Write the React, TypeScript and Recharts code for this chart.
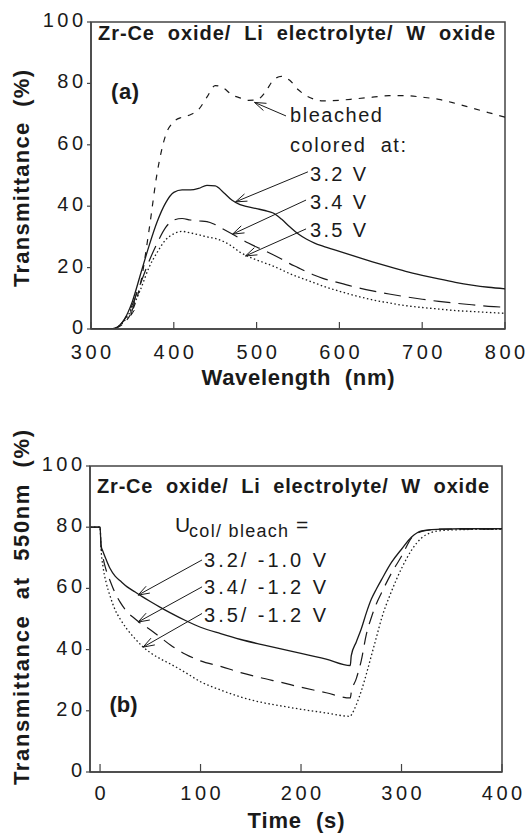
import React from "react";
import {
  LineChart,
  Line,
  XAxis,
  YAxis,
  ReferenceArea,
  ReferenceLine,
  ReferenceDot,
} from "recharts";

const FONT = "'Liberation Sans', Arial, Helvetica, sans-serif";
const INK = "#1a1a1a";
const AXIS = "#444";

// ---------- Panel (a): spectra ----------
const wavelengths = [
  300, 310, 320, 330, 340, 350, 360, 370, 380, 390,
  400, 410, 420, 430, 440, 450, 460, 470, 480, 490,
  500, 510, 520, 530, 540, 550, 560, 570, 580,
  600, 620, 640, 660, 680, 700, 720, 740, 760, 780, 800,
];
const bleached = [
  0, 0, 0, 0.3, 2, 6, 15, 32, 51, 63,
  67.5, 69, 69.8, 71.5, 75.5, 79.3, 78.5, 76.3, 75.3, 74.5,
  74.6, 77, 81, 82.3, 81, 78, 76, 74.8, 74.3,
  74.5, 75, 75.5, 76, 76, 75.5, 74.8, 73.5, 72, 70.5, 69,
];
const colored32 = [
  0, 0, 0, 0.4, 3, 9, 18, 27, 35, 41,
  44.5, 45.3, 45.3, 45.8, 46.8, 46.6, 44.5, 42, 40.5, 39.8,
  39.2, 38.6, 37.8, 35.8, 33.3, 31, 29.3, 28, 27,
  25.3, 23.6, 21.9, 20.3, 18.8, 17.5, 16.3, 15.2, 14.3, 13.6, 13.1,
];
const colored34 = [
  0, 0, 0, 0.4, 3, 8, 15, 22, 28, 33,
  35.5, 36, 35.5, 35.2, 35, 34, 32.5, 31, 29.5, 28,
  26.7, 25.5, 24.2, 22.8, 21.3, 20, 18.7, 17.5, 16.5,
  15, 13.6, 12.4, 11.4, 10.5, 9.7, 9, 8.4, 7.9, 7.4, 7.1,
];
const colored35 = [
  0, 0, 0, 0.4, 2.5, 7, 13, 20, 25, 29,
  31, 31.8, 31.3, 30.7, 30, 29.5, 28.5, 27, 25, 23.6,
  22.5, 21.5, 20.5, 19.3, 18, 17, 16, 15, 14,
  12.3, 10.8, 9.5, 8.5, 7.6, 7, 6.5, 6, 5.7, 5.4, 5.1,
];
const wavelengthTicks = [300, 400, 500, 600, 700, 800];
const percentTicks = [0, 20, 40, 60, 80, 100];

// ---------- Panel (b): kinetics at 550 nm ----------
const times = [
  -10, 0, 1, 3, 6, 10, 15, 20, 27, 35,
  42, 50, 60, 70, 85, 100, 120, 140, 160, 180,
  200, 225, 249, 250, 255, 260, 265, 270, 275, 280,
  290, 300, 310, 320, 330, 340, 360, 380, 400,
];
const trans32 = [
  80, 80, 74, 72, 69.5, 66.5, 64, 62.5, 60.5, 58.8,
  57.3, 55.7, 53.8, 52, 49.5, 47.3, 45.2, 43.3, 41.7, 40.2,
  38.8, 36.9, 34.8, 38, 42.5, 46.8, 52, 56.5, 59.8, 62.8,
  68.5, 72.8, 76.8, 78.8, 79.2, 79.4, 79.5, 79.5, 79.5,
];
const trans34 = [
  80, 80, 74, 70, 66, 62.5, 58.5, 55.5, 52.3, 50,
  48.2, 46.5, 44, 41.5, 38.5, 36.3, 34.5, 32.5, 30.8, 29.3,
  27.7, 25.9, 24.2, 26, 30.5, 36.5, 45, 50.5, 55, 58.5,
  65, 70.5, 76.5, 78.6, 79.2, 79.4, 79.4, 79.4, 79.4,
];
const trans35 = [
  80, 80, 73, 67, 62, 57.5, 53, 50, 46.6, 43.5,
  41.1, 39, 37, 35.3, 32.5, 29.5, 26.8, 24.5, 22.8, 21.6,
  20.5, 19.3, 18.2, 18.6, 22, 26.5, 32, 38, 44, 50,
  59, 66.5, 72.5, 76.5, 78.3, 78.9, 79.2, 79.3, 79.3,
];
const timeTicks = [0, 100, 200, 300, 400];

const dataA = wavelengths.map((w, i) => ({
  w,
  b: bleached[i],
  c32: colored32[i],
  c34: colored34[i],
  c35: colored35[i],
}));
const dataB = times.map((t, i) => ({
  t,
  s32: trans32[i],
  s34: trans34[i],
  s35: trans35[i],
}));

// ---------- helpers ----------
const spaced = (s: string, gap: number) =>
  String(s)
    .split("")
    .map((c, i) => (
      <tspan key={i} dx={i ? gap : 0}>
        {c}
      </tspan>
    ));

const makeXTick = (dy: number) => (p: any) => (
  <text
    x={p.x}
    y={p.y + dy}
    textAnchor="middle"
    fontFamily={FONT}
    fontSize={20}
    fill={INK}
  >
    {spaced(p.payload.value, 3.5)}
  </text>
);
const XTick = makeXTick(36.5);
const XTickB = makeXTick(36);
const YTick = (p: any) => (
  <text
    x={p.x - 3}
    y={p.y + 5}
    textAnchor="end"
    fontFamily={FONT}
    fontSize={20}
    fill={INK}
  >
    {spaced(p.payload.value, 3.5)}
  </text>
);

const makeArrow = (head: number) => (p: any) => {
  const { x1, y1, x2, y2 } = p;
  const a = Math.atan2(y2 - y1, x2 - x1);
  const s = 0.33;
  const ax = x2 - head * Math.cos(a - s);
  const ay = y2 - head * Math.sin(a - s);
  const bx = x2 - head * Math.cos(a + s);
  const by = y2 - head * Math.sin(a + s);
  return (
    <g>
      <line x1={x1} y1={y1} x2={x2} y2={y2} stroke={INK} strokeWidth={1} />
      <polyline
        points={`${ax},${ay} ${x2},${y2} ${bx},${by}`}
        fill="none"
        stroke={INK}
        strokeWidth={1}
      />
    </g>
  );
};
const arrow = makeArrow(12);
const smallArrow = makeArrow(6);

const note = (
  key: string,
  x: number,
  y: number,
  text: string,
  size: number,
  bold: boolean,
  len?: number
) => (
  <ReferenceDot
    key={key}
    x={x}
    y={y}
    r={0}
    shape={(p: any) => (
      <text
        x={p.cx}
        y={p.cy}
        fontFamily={FONT}
        fontSize={size}
        fontWeight={bold ? "bold" : "normal"}
        fill={INK}
        textLength={len}
        lengthAdjust={len ? "spacing" : undefined}
        style={{ whiteSpace: "pre" }}
      >
        {text}
      </text>
    )}
  />
);

const xTitle = (text: string, dy: number, len: number) => (p: any) => {
  const vb = p.viewBox;
  return (
    <text
      x={vb.x + vb.width / 2}
      y={vb.y + dy}
      textAnchor="middle"
      fontFamily={FONT}
      fontSize={22}
      fontWeight="bold"
      fill={INK}
      textLength={len}
      lengthAdjust="spacing"
      style={{ whiteSpace: "pre" }}
    >
      {text}
    </text>
  );
};
const yTitle = (text: string, cx: number, cy: number, len: number) => () => (
  <text
    x={cx}
    y={cy}
    transform={`rotate(-90, ${cx}, ${cy})`}
    textAnchor="middle"
    fontFamily={FONT}
    fontSize={22}
    fontWeight="bold"
    fill={INK}
    textLength={len}
    lengthAdjust="spacing"
    style={{ whiteSpace: "pre" }}
  >
    {text}
  </text>
);

const TITLE = "Zr-Ce  oxide/  Li  electrolyte/  W  oxide";

export default function App() {
  return (
    <div
      style={{
        position: "absolute",
        left: 0,
        top: 0,
        width: 527,
        height: 833,
        background: "#fff",
      }}
    >
      {/* Panel (a) */}
      <div style={{ position: "absolute", left: 0, top: 0 }}>
        <LineChart
          width={527}
          height={400}
          data={dataA}
          margin={{ top: 22, right: 22, bottom: 31, left: 31 }}
        >
          <XAxis
            dataKey="w"
            type="number"
            domain={[300, 800]}
            ticks={wavelengthTicks}
            allowDataOverflow
            height={40}
            tickSize={-7}
            tickMargin={0}
            tick={XTick}
            axisLine={{ stroke: AXIS, strokeWidth: 1.5 }}
            tickLine={{ stroke: AXIS, strokeWidth: 1.2 }}
            label={{ content: xTitle("Wavelength  (nm)", 56, 193) }}
          />
          <YAxis
            type="number"
            domain={[0, 100]}
            ticks={percentTicks}
            allowDataOverflow
            width={60}
            tickSize={4}
            tickMargin={1}
            tick={YTick}
            axisLine={{ stroke: AXIS, strokeWidth: 1.5 }}
            tickLine={{ stroke: AXIS, strokeWidth: 1.2 }}
            label={{ content: yTitle("Transmittance  (%)", 29, 178.5, 217) }}
          />
          <ReferenceArea
            x1={300}
            x2={800}
            y1={0}
            y2={100}
            fill="none"
            fillOpacity={0}
            stroke={AXIS}
            strokeWidth={1.5}
          />
          <Line
            dataKey="b"
            type="monotone"
            stroke={INK}
            strokeWidth={1.2}
            strokeDasharray="6 7"
            dot={false}
            activeDot={false}
            isAnimationActive={false}
          />
          <Line
            dataKey="c32"
            type="monotone"
            stroke={INK}
            strokeWidth={1.3}
            dot={false}
            activeDot={false}
            isAnimationActive={false}
          />
          <Line
            dataKey="c34"
            type="monotone"
            stroke={INK}
            strokeWidth={1.2}
            strokeDasharray="17 8"
            dot={false}
            activeDot={false}
            isAnimationActive={false}
          />
          <Line
            dataKey="c35"
            type="monotone"
            stroke={INK}
            strokeWidth={1.3}
            strokeDasharray="1.5 2.5"
            dot={false}
            activeDot={false}
            isAnimationActive={false}
          />
          {note("ta", 308.5, 94.1, TITLE, 20, true, 397)}
          {note("la", 324.2, 74.9, "(a)", 22, true, 28)}
          {note("bl", 540.3, 67.4, "bleached", 20, false, 92)}
          {note("ca", 540.3, 57.7, "colored  at:", 20, false, 116)}
          {note("v32", 564.5, 48.2, "3.2 V", 20, false, 56)}
          {note("v34", 564.5, 39.25, "3.4 V", 20, false, 56)}
          {note("v35", 564.5, 30, "3.5 V", 20, false, 56)}
          <ReferenceLine segment={[{ x: 535.5, y: 69.4 }, { x: 497.5, y: 73.8 }]} shape={arrow} />
          <ReferenceLine segment={[{ x: 562, y: 51.2 }, { x: 474.5, y: 41.4 }]} shape={arrow} />
          <ReferenceLine segment={[{ x: 559.7, y: 42 }, { x: 471, y: 30.9 }]} shape={arrow} />
          <ReferenceLine segment={[{ x: 559.7, y: 32.6 }, { x: 486.6, y: 23.8 }]} shape={arrow} />
          <ReferenceLine segment={[{ x: 355, y: 12 }, { x: 348.5, y: 4.5 }]} shape={smallArrow} />
        </LineChart>
      </div>

      {/* Panel (b) */}
      <div style={{ position: "absolute", left: 0, top: 400 }}>
        <LineChart
          width={527}
          height={433}
          data={dataB}
          margin={{ top: 66, right: 25, bottom: 21, left: 30 }}
        >
          <XAxis
            dataKey="t"
            type="number"
            domain={[-10, 400]}
            ticks={timeTicks}
            allowDataOverflow
            height={40}
            tickSize={-8}
            tickMargin={0}
            tick={XTickB}
            axisLine={{ stroke: AXIS, strokeWidth: 1.5 }}
            tickLine={{ stroke: AXIS, strokeWidth: 1.2 }}
            label={{ content: xTitle("Time  (s)", 56, 97) }}
          />
          <YAxis
            type="number"
            domain={[0, 100]}
            ticks={percentTicks}
            allowDataOverflow
            width={60}
            tickSize={4}
            tickMargin={1}
            tick={YTick}
            axisLine={{ stroke: AXIS, strokeWidth: 1.5 }}
            tickLine={{ stroke: AXIS, strokeWidth: 1.2 }}
            label={{
              content: yTitle("Transmittance  at  550nm  (%)", 29, 207.5, 355),
            }}
          />
          <ReferenceArea
            x1={-10}
            x2={400}
            y1={0}
            y2={100}
            fill="none"
            fillOpacity={0}
            stroke={AXIS}
            strokeWidth={1.5}
          />
          <Line
            dataKey="s32"
            type="monotone"
            stroke={INK}
            strokeWidth={1.3}
            dot={false}
            activeDot={false}
            isAnimationActive={false}
          />
          <Line
            dataKey="s34"
            type="monotone"
            stroke={INK}
            strokeWidth={1.2}
            strokeDasharray="13 8"
            dot={false}
            activeDot={false}
            isAnimationActive={false}
          />
          <Line
            dataKey="s35"
            type="monotone"
            stroke={INK}
            strokeWidth={1.3}
            strokeDasharray="1.5 2.5"
            dot={false}
            activeDot={false}
            isAnimationActive={false}
          />
          {note("tb", -3, 91.2, TITLE, 20, true, 392)}
          {note("lb", 9.5, 19.6, "(b)", 22, true, 28)}
          {note("u", 74.6, 78.4, "U", 21, false)}
          {note("us", 88.6, 76.8, "col/ bleach", 18, false, 99)}
          {note("ue", 195, 78.4, "=", 21, false)}
          {note("p32", 103.5, 67, "3.2/ -1.0 V", 20, false, 122)}
          {note("p34", 103.5, 58.2, "3.4/ -1.2 V", 20, false, 122)}
          {note("p35", 103.5, 49, "3.5/ -1.2 V", 20, false, 122)}
          <ReferenceLine segment={[{ x: 101.5, y: 69.3 }, { x: 37.8, y: 57.8 }]} shape={arrow} />
          <ReferenceLine segment={[{ x: 101.5, y: 60.5 }, { x: 37.8, y: 49 }]} shape={arrow} />
          <ReferenceLine segment={[{ x: 101.5, y: 51.8 }, { x: 42.8, y: 40.8 }]} shape={arrow} />
        </LineChart>
      </div>
    </div>
  );
}
